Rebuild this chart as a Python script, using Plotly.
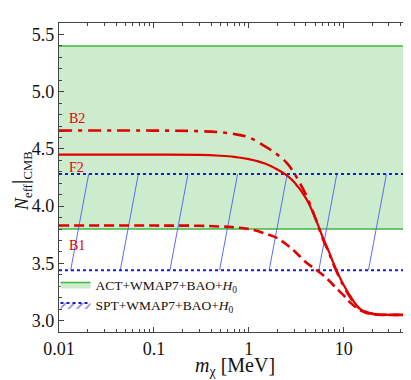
import numpy as np
import plotly.graph_objects as go

# ---- data ----
m_chi = [0.01, 0.1, 0.3, 0.5, 0.7, 1, 1.5, 2, 2.5, 3, 4, 5, 6, 7, 8, 10, 12, 15, 20, 30, 50]
neff_solid = [4.45, 4.45, 4.448, 4.44, 4.43, 4.41, 4.37, 4.32, 4.27, 4.21, 4.07, 3.90, 3.73, 3.60, 3.48,
              3.31, 3.20, 3.10, 3.06, 3.05, 3.05]
neff_dashdot = [4.66, 4.66, 4.655, 4.645, 4.63, 4.60, 4.52, 4.45, 4.38, 4.29, 4.10, 3.90, 3.72, 3.59, 3.47,
                3.30, 3.19, 3.10, 3.06, 3.05, 3.05]
neff_dashed = [3.83, 3.83, 3.828, 3.822, 3.815, 3.80, 3.76, 3.72, 3.665, 3.61, 3.51, 3.45, 3.40, 3.35, 3.30,
               3.22, 3.15, 3.09, 3.055, 3.05, 3.05]
act_band = [3.8, 5.4]     # ACT+WMAP7+BAO+H0
spt_band = [3.44, 4.28]   # SPT+WMAP7+BAO+H0
x_range = [0.01, 50]
x_ticks = [0.01, 0.1, 1, 10]
x_ticklabels = ["0.01", "0.1", "1", "10"]
y_ticks = [3.0, 3.5, 4.0, 4.5, 5.0, 5.5]

RED = "#e00000"
GREEN_LINE = "#3cb83c"
GREEN_FILL = "#cdebcd"
BLUE = "#1a1ad0"
HATCH = "#5a6ef2"
FONT = "Liberation Serif"

fig = go.Figure()

# ACT band
fig.add_trace(go.Scatter(x=x_range, y=[act_band[0]] * 2, mode="lines",
                         line=dict(color=GREEN_LINE, width=1.5), showlegend=False, hoverinfo="skip"))
fig.add_trace(go.Scatter(x=x_range, y=[act_band[1]] * 2, mode="lines", fill="tonexty",
                         fillcolor=GREEN_FILL, line=dict(color=GREEN_LINE, width=1.5),
                         name="ACT+WMAP7+BAO+<i>H</i><sub>0</sub>"))

# SPT hatch lines (decorative, derived from band limits on the log axis)
lx0, lx1 = np.log10(x_range)
step = 0.523
starts = np.arange(-1.877 - step, lx1 + step, step)
for s in starts:
    fig.add_trace(go.Scatter(x=[10 ** s, 10 ** (s + 0.19)], y=spt_band, mode="lines",
                             line=dict(color=HATCH, width=1), showlegend=False, hoverinfo="skip"))

# SPT band edges
for yv in spt_band:
    fig.add_trace(go.Scatter(x=x_range, y=[yv] * 2, mode="lines",
                             line=dict(color=BLUE, width=2, dash="3px,3px"),
                             showlegend=False, hoverinfo="skip"))
# legend entry for SPT
fig.add_trace(go.Scatter(x=[None], y=[None], mode="lines", fill="toself",
                         fillcolor="rgba(0,0,0,0)",
                         fillpattern=dict(shape="/", fgcolor=BLUE, bgcolor="rgba(0,0,0,0)", size=6, solidity=0.3),
                         line=dict(color=BLUE, width=2, dash="3px,3px"),
                         name="SPT+WMAP7+BAO+<i>H</i><sub>0</sub>"))

# curves
fig.add_trace(go.Scatter(x=m_chi, y=neff_dashed, mode="lines", line_shape="spline",
                         line=dict(color=RED, width=2.6, dash="10px,5px"), showlegend=False))
fig.add_trace(go.Scatter(x=m_chi, y=neff_solid, mode="lines", line_shape="spline",
                         line=dict(color=RED, width=2.2), showlegend=False))
fig.add_trace(go.Scatter(x=m_chi, y=neff_dashdot, mode="lines", line_shape="spline",
                         line=dict(color=RED, width=2.6, dash="13px,6px,4px,6px"), showlegend=False))

# labels
lab_x = np.log10(0.0122)
for txt, yv in [("B2", 4.765), ("F2", 4.335), ("B1", 3.66)]:
    fig.add_annotation(x=lab_x, y=yv, text=txt, showarrow=False, xanchor="left", yanchor="middle",
                       font=dict(family=FONT, size=14, color=RED))

# axis titles as paper-anchored annotations
fig.add_annotation(xref="paper", yref="paper", x=0.5, y=-0.112, xanchor="center", yanchor="middle",
                   text="<i>m</i><sub>χ</sub> [MeV]", showarrow=False,
                   font=dict(family=FONT, size=20, color="#111"))
fig.add_annotation(xref="paper", yref="paper", x=-0.11, y=0.49, xanchor="center", yanchor="middle",
                   textangle=-90,
                   text="<i>N</i><sub>eff</sub><span style='font-size:24px'>|</span><sub>CMB</sub>",
                   showarrow=False, font=dict(family=FONT, size=18, color="#111"))

# minor ticks on the log axis: 2..9 in each decade
minor_x = [m * 10.0 ** d for d in range(-2, 2) for m in range(2, 10) if m * 10.0 ** d <= x_range[1]]

axis_common = dict(showline=True, linecolor="#444", linewidth=1.2, mirror="ticks",
                   ticks="inside", tickcolor="#444", showgrid=False, zeroline=False, automargin=False,
                   tickfont=dict(family=FONT, size=18, color="#111"))

fig.update_xaxes(type="log", range=[lx0, lx1], tickvals=x_ticks, ticktext=x_ticklabels,
                 ticklen=5, minor=dict(ticks="inside", ticklen=3, tickvals=minor_x, tickcolor="#444",
                                       showgrid=False),
                 **axis_common)
fig.update_yaxes(range=[2.9, 5.6], tickvals=y_ticks, tickformat=".1f", ticklen=5,
                 minor=dict(ticks="inside", ticklen=3, dtick=0.1, tickcolor="#444", showgrid=False),
                 **axis_common)

# the page body adds an 8px offset, so the figure is 8px smaller and margins compensate
fig.update_layout(
    width=403, height=372,
    margin=dict(l=51, r=1, t=15, b=48),
    plot_bgcolor="white", paper_bgcolor="white",
    legend=dict(x=-0.01, y=0.035, xanchor="left", yanchor="bottom", bgcolor="rgba(0,0,0,0)",
                traceorder="normal",
                font=dict(family=FONT, size=13.5, color="#111"), tracegroupgap=0, itemwidth=30),
)

fig.write_html("out.html")
